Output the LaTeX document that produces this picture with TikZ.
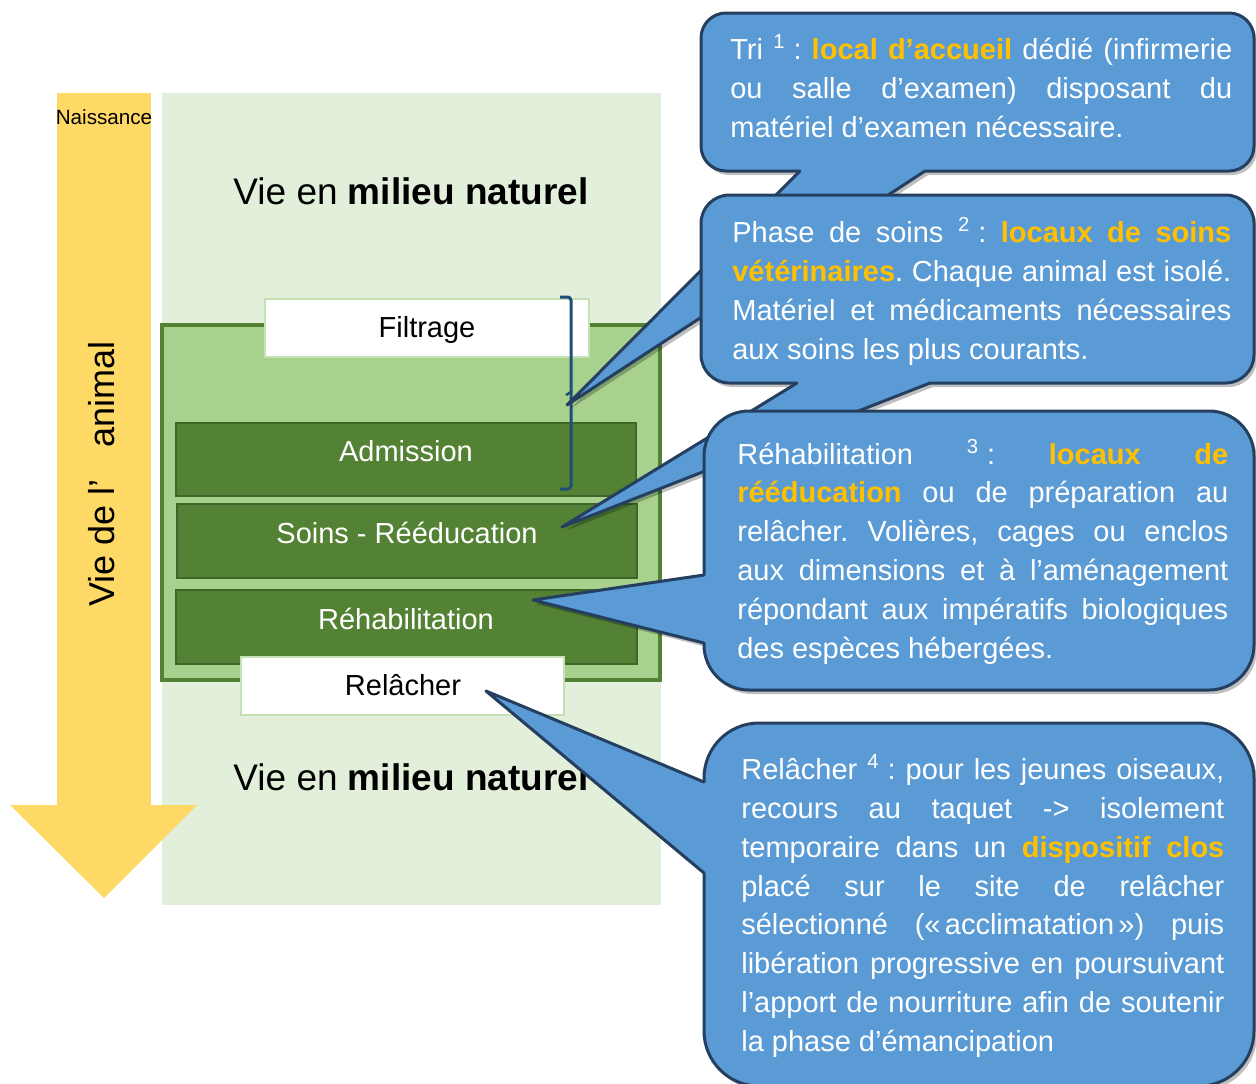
\documentclass[tikz,border=0pt]{standalone}
\usepackage{fontspec}
\setmainfont{Liberation Sans}
\frenchspacing
\definecolor{bggreen}{HTML}{E2EFDA}
\definecolor{midgreen}{HTML}{A9D18E}
\definecolor{darkgreen}{HTML}{548235}
\definecolor{boxborder}{HTML}{3E6628}
\definecolor{palegreen}{HTML}{C5E0B4}
\definecolor{arrowyellow}{HTML}{FFD966}
\definecolor{cblue}{HTML}{5B9BD5}
\definecolor{cborder}{HTML}{243F60}
\definecolor{hlorange}{HTML}{FFC000}
\definecolor{bracketc}{HTML}{1F4E79}
\newcommand{\orng}[1]{\textbf{\color{hlorange}#1}}
\newcommand{\jline}[2]{\makebox[#1][s]{#2}}
\newcommand{\lline}[2]{\makebox[#1][l]{#2}}
\begin{document}
\begin{tikzpicture}[x=0.6pt,y=-0.6pt,
  ctext/.style={text=white,inner sep=0pt,anchor=base west,font=\fontsize{17.4pt}{23.4pt}\selectfont\frenchspacing},
  blabel/.style={inner sep=0pt,anchor=base,font=\fontsize{17.4pt}{21pt}\selectfont},
  bigtext/.style={inner sep=0pt,anchor=base,font=\fontsize{22.2pt}{26pt}\selectfont},
  callout/.style={fill=cblue,draw=cborder,line width=1.8pt},
  tailedge/.style={draw=cborder,line width=1.8pt,line join=round,line cap=round},
  shadowc/.style={fill=black,opacity=0.25},
  greenbox/.style={fill=darkgreen,draw=boxborder,line width=1.5pt},
  whitebox/.style={fill=white,draw=palegreen,line width=1.2pt}]
\useasboundingbox (0,0) rectangle (1256,1083);

% background and time arrow
\fill[bggreen] (162,93) rectangle (661,905);
\fill[arrowyellow] (57,93) rectangle (151,806);
\fill[arrowyellow] (10,805) -- (197,805) -- (104,898) -- cycle;
\node[inner sep=0pt,anchor=base,font=\fontsize{12.4pt}{14pt}\selectfont] (naiss) at (104,124) {Naissance};
\node[inner sep=0pt,anchor=base,rotate=90,font=\fontsize{21.6pt}{26pt}\selectfont] (vie) at (114,474) {Vie de l’\hspace{0.9em}animal};

\node[bigtext] (mnhaut) at (411,204) {Vie en \textbf{milieu naturel}};
\node[bigtext] (mnbas) at (411,790) {Vie en \textbf{milieu naturel}};

% centre frame
\filldraw[fill=midgreen,draw=darkgreen,line width=2.4pt] (162,325) rectangle (660,680);
\filldraw[greenbox] (176,423) rectangle (636,496);
\filldraw[greenbox] (177,504) rectangle (637,578);
\filldraw[greenbox] (176,590) rectangle (637,664);
\filldraw[whitebox] (265,299) rectangle (589,357);
\filldraw[whitebox] (241,657) rectangle (564,715);
\node[blabel] (filtrage) at (427,337) {Filtrage};
\node[blabel,text=white] (admission) at (406,461) {Admission};
\node[blabel,text=white] (soins) at (407,543) {Soins - Rééducation};
\node[blabel,text=white] (rehab) at (406,629) {Réhabilitation};
\node[blabel] (relacher) at (403,695) {Relâcher};

% bracket
\draw[bracketc,line width=1.8pt,rounded corners=2pt] (560,297) -- (571,297) -- (571,489) -- (560,489);
\draw[bracketc,line width=1.5pt] (571,392) -- (566,395);

% tail tips
\coordinate (t1) at (567,405);
\coordinate (t2) at (562,527);
\coordinate (t3) at (533,600);
\coordinate (t4) at (486,691);

% callout 1
\begin{scope}[shift={(3,4)}]
\fill[shadowc,rounded corners=15pt] (701,13) rectangle (1254,171);
\fill[shadowc] (800,171) -- (567,405) -- (925,171) -- cycle;
\end{scope}
\filldraw[callout,rounded corners=15pt] (701,13) rectangle (1254,171);
\fill[cblue] (800,166) -- (800,171) -- (t1) -- (925,171) -- (925,166) -- cycle;
\draw[tailedge] (800,171) -- (t1) -- (925,171);
\node[ctext] (c1a) at (730,59) {\jline{301.2pt}{Tri \textsuperscript{1}\hspace{0.28em}: \orng{local d’accueil} dédié (infirmerie}};
\node[ctext] (c1b) at (730,98) {\jline{301.2pt}{ou salle d’examen) disposant du}};
\node[ctext] (c1c) at (730,137) {\lline{301.2pt}{matériel d’examen nécessaire.}};

% callout 2
\begin{scope}[shift={(3,4)}]
\fill[shadowc,rounded corners=17pt] (701,195) rectangle (1254,383);
\fill[shadowc] (797,383) -- (562,527) -- (930,383) -- cycle;
\end{scope}
\filldraw[callout,rounded corners=17pt] (701,195) rectangle (1254,383);
\fill[cblue] (797,378) -- (797,383) -- (t2) -- (930,383) -- (930,378) -- cycle;
\draw[tailedge] (797,383) -- (t2) -- (930,383);
\node[ctext] (c2a) at (732,242) {\jline{299.4pt}{Phase de soins \textsuperscript{2}\hspace{0.28em}: \orng{locaux de soins}}};
\node[ctext] (c2b) at (732,281) {\jline{299.4pt}{\orng{vétérinaires}. Chaque animal est isolé.}};
\node[ctext] (c2c) at (732,320) {\jline{299.4pt}{Matériel et médicaments nécessaires}};
\node[ctext] (c2d) at (732,359) {\lline{299.4pt}{aux soins les plus courants.}};

% callout 3
\begin{scope}[shift={(3,4)}]
\fill[shadowc,rounded corners=27pt] (704,411) rectangle (1254,690);
\fill[shadowc] (704,575) -- (533,600) -- (704,643) -- cycle;
\end{scope}
\filldraw[callout,rounded corners=27pt] (704,411) rectangle (1254,690);
\fill[cblue] (709,575) -- (704,575) -- (t3) -- (704,643) -- (709,643) -- cycle;
\draw[tailedge] (704,575) -- (t3) -- (704,643);
\node[ctext] (c3a) at (737,464) {\jline{294.6pt}{Réhabilitation \textsuperscript{3}\hspace{0.28em}: \orng{locaux de}}};
\node[ctext] (c3b) at (737,502) {\jline{294.6pt}{\orng{rééducation} ou de préparation au}};
\node[ctext] (c3c) at (737,541) {\jline{294.6pt}{relâcher. Volières, cages ou enclos}};
\node[ctext] (c3d) at (737,580) {\jline{294.6pt}{aux dimensions et à l’aménagement}};
\node[ctext] (c3e) at (737,619) {\jline{294.6pt}{répondant aux impératifs biologiques}};
\node[ctext] (c3f) at (737,658) {\lline{294.6pt}{des espèces hébergées.}};

% callout 4
\begin{scope}[shift={(3,4)}]
\fill[shadowc,rounded corners=33pt] (704,723) rectangle (1254,1086);
\fill[shadowc] (704,782) -- (486,691) -- (704,873) -- cycle;
\end{scope}
\filldraw[callout,rounded corners=33pt] (704,723) rectangle (1254,1086);
\fill[cblue] (709,782) -- (704,782) -- (t4) -- (704,873) -- (709,873) -- cycle;
\draw[tailedge] (704,782) -- (t4) -- (704,873);
\node[ctext] (c4a) at (741,779) {\jline{289.8pt}{Relâcher \textsuperscript{4}\hspace{0.28em}: pour les jeunes oiseaux,}};
\node[ctext] (c4b) at (741,818) {\jline{289.8pt}{recours au taquet -> isolement}};
\node[ctext] (c4c) at (741,857) {\jline{289.8pt}{temporaire dans un \orng{dispositif clos}}};
\node[ctext] (c4d) at (741,896) {\jline{289.8pt}{placé sur le site de relâcher}};
\node[ctext] (c4e) at (741,934) {\jline{289.8pt}{sélectionné («\hspace{0.15em}acclimatation\hspace{0.15em}») puis}};
\node[ctext] (c4f) at (741,973) {\jline{289.8pt}{libération progressive en poursuivant}};
\node[ctext] (c4g) at (741,1012) {\jline{289.8pt}{l’apport de nourriture afin de soutenir}};
\node[ctext] (c4h) at (741,1051) {\lline{289.8pt}{la phase d’émancipation}};
\end{tikzpicture}
\end{document}
